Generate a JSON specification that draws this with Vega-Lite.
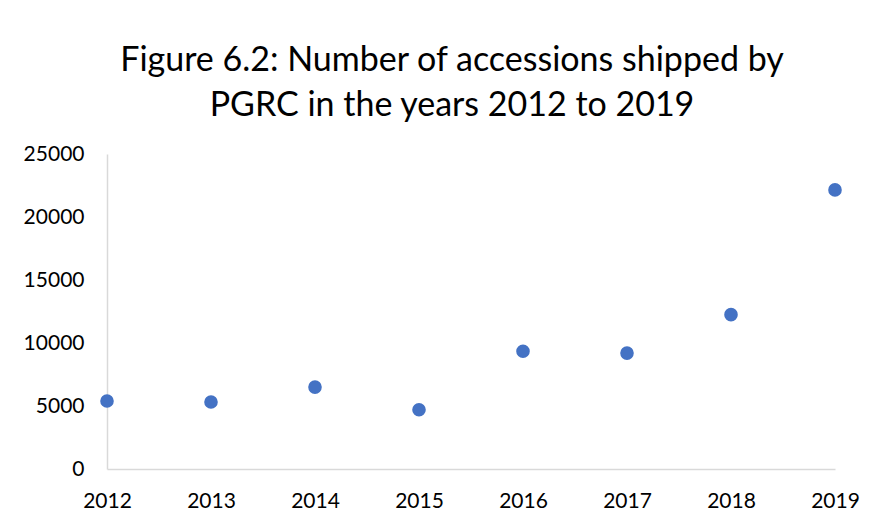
{
  "$schema": "https://vega.github.io/schema/vega-lite/v6.json",
  "width": 728,
  "height": 315,
  "autosize": {"type": "none"},
  "padding": {"left": 107, "top": 154, "right": 43, "bottom": 55},
  "background": "white",
  "title": {
    "text": ["Figure 6.2: Number of accessions shipped by", "PGRC in the years 2012 to 2019"],
    "font": "Lato",
    "fontSize": 34,
    "fontWeight": "normal",
    "color": "#000000",
    "lineHeight": 45,
    "anchor": "middle",
    "dx": -19,
    "offset": 20
  },
  "data": {
    "values": [
      {"year": 2012, "accessions": 5400},
      {"year": 2013, "accessions": 5320},
      {"year": 2014, "accessions": 6500},
      {"year": 2015, "accessions": 4700},
      {"year": 2016, "accessions": 9350},
      {"year": 2017, "accessions": 9200},
      {"year": 2018, "accessions": 12250},
      {"year": 2019, "accessions": 22150}
    ]
  },
  "mark": {"type": "point", "filled": true, "opacity": 1, "size": 185, "color": "#4472C4", "clip": false},
  "encoding": {
    "x": {
      "field": "year",
      "type": "quantitative",
      "scale": {"domain": [2012, 2019], "nice": false, "zero": false},
      "axis": {
        "title": null,
        "values": [2012, 2013, 2014, 2015, 2016, 2017, 2018, 2019],
        "format": "d",
        "grid": false,
        "ticks": false,
        "domainColor": "#d9d9d9",
        "domainWidth": 1.5,
        "labelFont": "Lato",
        "labelFontSize": 21,
        "labelColor": "#000000",
        "labelPadding": 21,
        "labelFlush": false
      }
    },
    "y": {
      "field": "accessions",
      "type": "quantitative",
      "scale": {"domain": [0, 25000], "nice": false},
      "axis": {
        "title": null,
        "values": [0, 5000, 10000, 15000, 20000, 25000],
        "format": "d",
        "grid": false,
        "ticks": false,
        "domainColor": "#d9d9d9",
        "domainWidth": 1.5,
        "labelFont": "Lato",
        "labelFontSize": 21,
        "labelColor": "#000000",
        "labelPadding": 23
      }
    }
  },
  "config": {"view": {"stroke": null}}
}
